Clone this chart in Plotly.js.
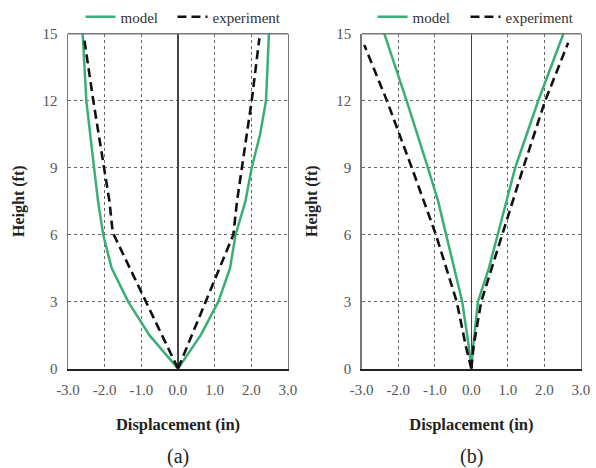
<!DOCTYPE html>
<html>
<head>
<meta charset="utf-8">
<script src="https://cdn.plot.ly/plotly-3.0.1.min.js"></script>
<style>html,body{margin:0;padding:0;background:#fff;}#chart{width:596px;height:468px;}</style>
</head>
<body>
<div id="chart"></div>
<script>
// ---- Data ----
// Panel (a)
const aModelNegH = [0, 1.5, 3, 4.5, 6, 7.5, 9, 12, 15];
const aModelNegX = [0, -0.78, -1.36, -1.81, -2.04, -2.18, -2.29, -2.50, -2.60];
const aModelPosH = [0, 1.5, 3, 4.5, 6, 7.5, 9, 10.5, 12, 15];
const aModelPosX = [0, 0.62, 1.10, 1.42, 1.57, 1.84, 2.01, 2.24, 2.40, 2.48];
const aExpNegH = [0, 3, 6.1, 7.5, 9, 12, 14.8];
const aExpNegX = [0, -0.88, -1.78, -1.87, -2.02, -2.31, -2.56];
const aExpPosH = [0, 3, 6, 7.5, 9, 12, 14.8];
const aExpPosX = [0, 0.76, 1.51, 1.61, 1.74, 2.01, 2.22];
// Panel (b)
const bModelNegH = [0, 1, 3, 6, 7.5, 9, 12, 15];
const bModelNegX = [0, -0.07, -0.25, -0.68, -0.91, -1.19, -1.77, -2.38];
const bModelPosH = [0, 1, 3, 4.5, 6, 7.5, 9, 12, 15];
const bModelPosX = [0, 0.05, 0.18, 0.48, 0.72, 0.96, 1.20, 1.83, 2.52];
const bExpNegH = [0, 1, 3, 6, 9, 12, 14.5];
const bExpNegX = [0, -0.15, -0.40, -0.97, -1.63, -2.31, -2.93];
const bExpPosH = [0, 1, 3, 6, 7.5, 9, 12, 14.6];
const bExpPosX = [0, 0.06, 0.27, 0.85, 1.12, 1.42, 2.02, 2.65];

const seriesNames = ["model", "experiment"];
const xTickVals = [-3, -2, -1, 0, 1, 2, 3];
const xTickLabels = ["-3.0", "-2.0", "-1.0", "0.0", "1.0", "2.0", "3.0"];
const yTickVals = [0, 3, 6, 9, 12, 15];
const yTickLabels = ["0", "3", "6", "9", "12", "15"];
const xTitle = "Displacement (in)";
const yTitle = "Height (ft)";
const panelLabels = ["(a)", "(b)"];

// ---- Styles ----
const GREEN = "#3aae77";
const SERIF = "'Liberation Serif', 'DejaVu Serif', serif";
const modelLine = {color: GREEN, width: 2.5};
const expLine = {color: "#111", width: 2.6, dash: "9px,5px"};

function join(negX, negH, posX, posH) {
  return {x: negX.concat([null], posX), y: negH.concat([null], posH)};
}

const aM = join(aModelNegX, aModelNegH, aModelPosX, aModelPosH);
const aE = join(aExpNegX, aExpNegH, aExpPosX, aExpPosH);
const bM = join(bModelNegX, bModelNegH, bModelPosX, bModelPosH);
const bE = join(bExpNegX, bExpNegH, bExpPosX, bExpPosH);

const traces = [
  {x: aM.x, y: aM.y, name: seriesNames[0], mode: "lines", line: modelLine, xaxis: "x", yaxis: "y", legend: "legend"},
  {x: aE.x, y: aE.y, name: seriesNames[1], mode: "lines", line: expLine, xaxis: "x", yaxis: "y", legend: "legend2"},
  {x: bM.x, y: bM.y, name: seriesNames[0], mode: "lines", line: modelLine, xaxis: "x2", yaxis: "y2", legend: "legend3"},
  {x: bE.x, y: bE.y, name: seriesNames[1], mode: "lines", line: expLine, xaxis: "x2", yaxis: "y2", legend: "legend4"}
];

function xAxis(domain, anchor) {
  return {
    domain: domain, anchor: anchor, range: [-3, 3],
    tickmode: "array", tickvals: xTickVals, ticktext: xTickLabels,
    ticks: "", showgrid: true, gridcolor: "#666", griddash: "dot", gridwidth: 1,
    zeroline: true, zerolinecolor: "#444", zerolinewidth: 1.5,
    showline: true, linecolor: "#222", linewidth: 2.5,
    tickfont: {family: SERIF, size: 15, color: "#555"},
    ticklabelstandoff: 6,
    title: {text: "<b>" + xTitle + "</b>", font: {family: SERIF, size: 16.5, color: "#222"}, standoff: 22},
    fixedrange: true
  };
}
function yAxis(domain, anchor) {
  return {
    domain: domain, anchor: anchor, range: [0, 15],
    tickmode: "array", tickvals: yTickVals, ticktext: yTickLabels,
    ticks: "", showgrid: true, gridcolor: "#666", griddash: "dot", gridwidth: 1,
    zeroline: false,
    showline: true, mirror: true, linecolor: "#777", linewidth: 1.5,
    tickfont: {family: SERIF, size: 15, color: "#555"},
    ticklabelstandoff: 6,
    title: {text: "<b>" + yTitle + "</b>", font: {family: SERIF, size: 16, color: "#222"}, standoff: 14},
    fixedrange: true
  };
}

const yDom = [0.2137, 0.9338];
const legendBase = {
  orientation: "h", yanchor: "middle", y: 0.970, xanchor: "left",
  font: {family: SERIF, size: 15, color: "#333"}, bgcolor: "rgba(0,0,0,0)",
  itemwidth: 30
};

const layout = {
  width: 596, height: 468,
  margin: {l: 0, r: 0, t: 0, b: 0},
  paper_bgcolor: "#fff", plot_bgcolor: "#fff",
  showlegend: true,
  xaxis: xAxis([0.1141, 0.4832], "y"),
  yaxis: yAxis(yDom, "x"),
  xaxis2: xAxis([0.6069, 0.9748], "y2"),
  yaxis2: yAxis(yDom, "x2"),
  legend: Object.assign({}, legendBase, {x: 0.1351}),
  legend2: Object.assign({}, legendBase, {x: 0.2894}),
  legend3: Object.assign({}, legendBase, {x: 0.625}),
  legend4: Object.assign({}, legendBase, {x: 0.781}),
  shapes: [
    {type: "line", xref: "x domain", yref: "y domain", x0: 0, x1: 1, y0: 1, y1: 1, line: {color: "#777", width: 1.5}},
    {type: "line", xref: "x2 domain", yref: "y2 domain", x0: 0, x1: 1, y0: 1, y1: 1, line: {color: "#777", width: 1.5}}
  ],
  annotations: [
    {text: panelLabels[0], xref: "paper", yref: "paper", x: 0.2987, y: 0.0256, xanchor: "center", yanchor: "middle", showarrow: false, font: {family: SERIF, size: 20, color: "#222"}},
    {text: panelLabels[1], xref: "paper", yref: "paper", x: 0.7908, y: 0.0256, xanchor: "center", yanchor: "middle", showarrow: false, font: {family: SERIF, size: 20, color: "#222"}}
  ]
};

Plotly.newPlot("chart", traces, layout, {displayModeBar: false, staticPlot: true});
</script>
</body>
</html>
